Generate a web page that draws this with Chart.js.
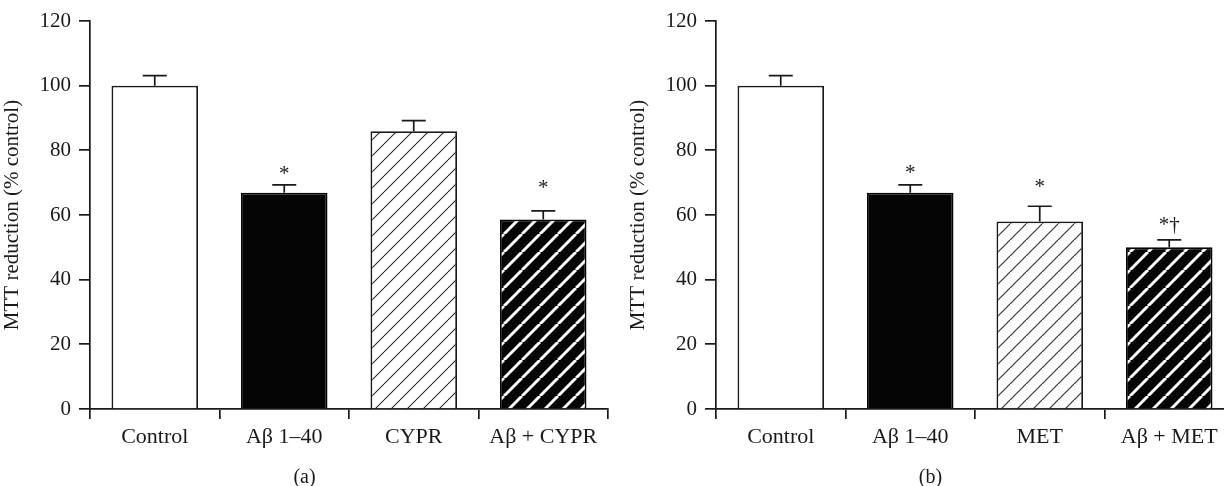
<!DOCTYPE html>
<html><head><meta charset="utf-8">
<script src="https://cdn.jsdelivr.net/npm/chart.js@4.4.1/dist/chart.umd.min.js"></script>
<style>
html,body{margin:0;padding:0;background:#fff;overflow:hidden;width:1224px;height:486px;}
#wrap{position:relative;width:1224px;height:486px;overflow:hidden;background:#fff;}
canvas{position:absolute;top:0;}
#ca{left:0}
#cb{left:626px}
</style></head><body>
<div id="wrap"><canvas id="ca" width="626" height="486"></canvas><canvas id="cb" width="626" height="486"></canvas></div>
<script>
// ---- data ----
const categoriesA = ['Control', 'Aβ 1–40', 'CYPR', 'Aβ + CYPR'];
const categoriesB = ['Control', 'Aβ 1–40', 'MET', 'Aβ + MET'];
const meansA = [100, 66.9, 85.9, 58.6];
const semA = [3.1, 2.4, 3.3, 2.7];
const meansB = [100, 66.9, 58.0, 50.0];
const semB = [3.1, 2.4, 4.7, 2.3];
const marksA = ['', '*', '', '*'];
const marksB = ['', '*', '*', '*†'];
const markYA = [null, 73.9, null, 69.6];
const markYB = [null, 74.1, 70.0, 58.2];
const yTicks = [0, 20, 40, 60, 80, 100, 120];
const yTitle = 'MTT reduction (% control)';
const panelA = '(a)';
const panelB = '(b)';

const INK = '#1a1a1a';
const SERIF = '"Liberation Serif", "DejaVu Serif", serif';

function hatch(bg, fg, s, lw) {
  const c = document.createElement('canvas');
  c.width = s; c.height = s;
  const x = c.getContext('2d');
  x.fillStyle = bg; x.fillRect(0, 0, s, s);
  x.strokeStyle = fg; x.lineWidth = lw;
  for (const k of [-1, 0, 1]) {
    x.beginPath(); x.moveTo(k * s, s); x.lineTo(k * s + s, 0); x.stroke();
  }
  return x.createPattern(c, 'repeat');
}

const errPlugin = {
  id: 'err',
  afterDatasetsDraw(chart, args, opts) {
    const ctx = chart.ctx;
    const ys = chart.scales.y;
    const meta = chart.getDatasetMeta(0);
    const vals = chart.data.datasets[0].data;
    ctx.save();
    ctx.strokeStyle = INK; ctx.lineWidth = 1.7; ctx.fillStyle = INK;
    meta.data.forEach((bar, i) => {
      const top = ys.getPixelForValue(vals[i]);
      const hi = ys.getPixelForValue(vals[i] + opts.sem[i]);
      ctx.beginPath();
      ctx.moveTo(bar.x, top); ctx.lineTo(bar.x, hi);
      ctx.moveTo(bar.x - 12, hi); ctx.lineTo(bar.x + 12, hi);
      ctx.stroke();
      if (opts.marks[i]) {
        ctx.font = '21px ' + SERIF;
        ctx.textAlign = 'center'; ctx.textBaseline = 'alphabetic';
        ctx.fillText(opts.marks[i], bar.x, ys.getPixelForValue(opts.markY[i]) + 10);
      }
    });
    ctx.font = '20px ' + SERIF;
    ctx.textAlign = 'center'; ctx.textBaseline = 'middle';
    ctx.fillText(opts.panel, chart.chartArea.left + 214.5, 478);
    ctx.restore();
  }
};

function makeChart(id, labels, means, sem, marks, markY, panel) {
  const ctx = document.getElementById(id).getContext('2d');
  const bgs = ['#ffffff', '#050505', hatch('#ffffff', '#2a2a2a', 16, 1.1), hatch('#050505', '#ffffff', 18, 3)];
  const bds = [INK, '#050505', INK, '#050505'];
  return new Chart(ctx, {
    type: 'bar',
    data: { labels: labels, datasets: [{ data: means, backgroundColor: bgs, borderColor: bds, borderWidth: 1.8,
      categoryPercentage: 1.0, barPercentage: 0.668 }] },
    plugins: [errPlugin],
    options: {
      responsive: false, animation: false, devicePixelRatio: 1,
      layout: { padding: { left: 0, right: 18, top: 21, bottom: 0 } },
      plugins: { legend: { display: false }, tooltip: { enabled: false },
        err: { sem: sem, marks: marks, markY: markY, panel: panel } },
      scales: {
        x: {
          grid: { display: true, drawOnChartArea: false, drawTicks: true, tickLength: 10, color: INK, lineWidth: 1.7, offset: true },
          border: { display: true, color: INK, width: 1.7 },
          ticks: { color: INK, padding: 5, font: { family: SERIF, size: 22 }, maxRotation: 0 },
          afterFit(s) { s.height = 77; }
        },
        y: {
          min: 0, max: 120,
          afterBuildTicks(s) { s.ticks = yTicks.map(v => ({ value: v })); },
          grid: { display: true, drawOnChartArea: false, drawTicks: true, tickLength: 11, color: INK, lineWidth: 1.7 },
          border: { display: true, color: INK, width: 1.7 },
          ticks: { color: INK, padding: 8, font: { family: SERIF, size: 21 } },
          title: { display: true, text: yTitle, color: INK, font: { family: SERIF, size: 21 }, padding: { top: 0, bottom: 0 } },
          afterFit(s) { s.width = 90; }
        }
      }
    }
  });
}

makeChart('ca', categoriesA, meansA, semA, marksA, markYA, panelA);
makeChart('cb', categoriesB, meansB, semB, marksB, markYB, panelB);
</script>
</body></html>
